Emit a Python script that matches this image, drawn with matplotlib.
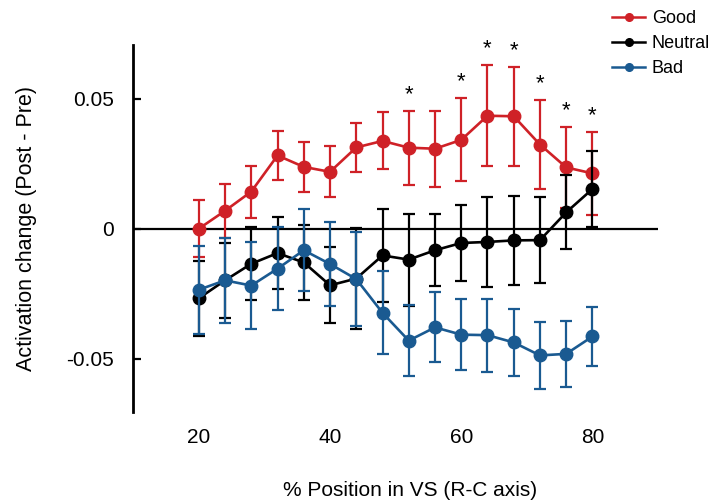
import numpy as np
import matplotlib.pyplot as plt

plt.rcParams['font.family'] = ['Liberation Sans', 'DejaVu Sans']

# ── data ──────────────────────────────────────────────────────────────────
pos = np.arange(20, 81, 4)

good_mean = [0.000, 0.0069, 0.0143, 0.0282, 0.0238, 0.0219, 0.0313, 0.0338,
             0.0312, 0.0308, 0.0342, 0.0435, 0.0433, 0.0324, 0.0236, 0.0213]
good_err  = [0.011, 0.0105, 0.0100, 0.0095, 0.0095, 0.0098, 0.0094, 0.0110,
             0.0143, 0.0147, 0.0160, 0.0195, 0.0190, 0.0170, 0.0157, 0.0160]

neutral_mean = [-0.0268, -0.0199, -0.0135, -0.0094, -0.0130, -0.0218, -0.0192, -0.0103,
                -0.0119, -0.0083, -0.0055, -0.0051, -0.0045, -0.0044, 0.0063, 0.0153]
neutral_err  = [0.0145, 0.0145, 0.0140, 0.0140, 0.0143, 0.0147, 0.0195, 0.0180,
                0.0177, 0.0138, 0.0145, 0.0175, 0.0170, 0.0167, 0.0143, 0.0145]

bad_mean = [-0.0235, -0.0199, -0.0219, -0.0154, -0.0083, -0.0136, -0.0194, -0.0324,
            -0.0431, -0.0380, -0.0408, -0.0410, -0.0438, -0.0488, -0.0482, -0.0415]
bad_err  = [0.0170, 0.0163, 0.0166, 0.0160, 0.0158, 0.0163, 0.0180, 0.0160,
            0.0137, 0.0135, 0.0136, 0.0140, 0.0130, 0.0130, 0.0128, 0.0115]

signif = [52, 60, 64, 68, 72, 76, 80]

# ── plot ──────────────────────────────────────────────────────────────────
fig = plt.figure(figsize=(7.2, 5.04), dpi=100)
ax = fig.add_axes([0.185, 0.183, 0.729, 0.728])

ax.axhline(0, color='black', lw=1.6, zorder=1)

series = [('Good', good_mean, good_err, '#cf2127'),
          ('Neutral', neutral_mean, neutral_err, 'black'),
          ('Bad', bad_mean, bad_err, '#1a5a91')]
handles = []
for i, (name, m, e, c) in enumerate(series):
    ax.errorbar(pos, m, yerr=e, color=c, lw=1.9, elinewidth=1.6,
                capsize=4, capthick=1.6, marker='o', markersize=9,
                zorder=2 + i)
    h, = ax.plot([], [], color=c, lw=1.8, marker='o', markersize=5.5)
    handles.append(h)

for p in signif:
    k = list(pos).index(p)
    ax.text(p, good_mean[k] + good_err[k] + 0.0063, '*', ha='center',
            va='center', fontsize=16)

ax.set_xlim(10, 90)
ax.set_ylim(-0.0705, 0.0708)
ax.set_xticks([20, 40, 60, 80])
ax.set_yticks([-0.05, 0, 0.05])
ax.set_yticklabels(['-0.05', '0', '0.05'])
ax.tick_params(axis='x', length=0, pad=12, labelsize=15)
ax.tick_params(axis='y', direction='in', length=6, width=1.6, pad=14, labelsize=15)
for s in ['top', 'right', 'bottom']:
    ax.spines[s].set_visible(False)
ax.spines['left'].set_linewidth(2)

ax.set_xlabel('% Position in VS (R-C axis)', fontsize=15)
ax.xaxis.set_label_coords(0.528, -0.188)
ax.set_ylabel('Activation change (Post - Pre)', fontsize=15.5, labelpad=21)

fig.legend(handles, ['Good', 'Neutral', 'Bad'], loc='upper right',
           bbox_to_anchor=(1.009, 1.012), frameon=False, fontsize=13,
           handlelength=1.8, handletextpad=0.4, labelspacing=0.45)

plt.savefig('out.png', dpi=100)
